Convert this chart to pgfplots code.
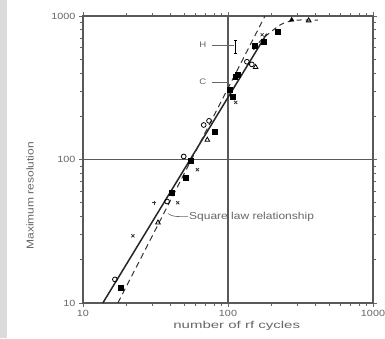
\documentclass[border=0pt]{standalone}
\usepackage{pgfplots}
\pgfplotsset{compat=1.18}
\usepackage{fontspec}
\setmainfont{Liberation Sans}
\newfontfamily\lab[FakeStretch=1.2]{Liberation Sans}
\newfontfamily\labw[FakeStretch=1.5]{Liberation Sans}
\begin{document}
\begin{tikzpicture}
\useasboundingbox (-83pt,-35pt) rectangle (302pt,303pt);
\fill[black!14] (-83pt,-35pt) rectangle (-76pt,303pt);
\begin{axis}[
  scale only axis, width=290pt, height=287pt,
  xmode=log, ymode=log,
  xmin=10, xmax=1000, ymin=10, ymax=1000,
  xtick={10,100,1000}, xticklabels={10,100,1000},
  ytick={10,100,1000}, yticklabels={10,100,1000},
  minor xtick={}, minor ytick={},
  tick align=outside, major tick length=4pt,
  tick style={black!60, line width=0.9pt},
  grid=major, grid style={black!65, line width=1.3pt},
  axis line style={black!65, line width=1.6pt},
  ticklabel style={font=\lab\fontsize{9}{10}\selectfont, text=black!60},
  /pgf/number format/assume math mode=true,
  xlabel={number of rf cycles}, ylabel={Maximum resolution},
  every axis x label/.style={at={(axis description cs:0.53,-0.08)}, anchor=center, font=\labw\fontsize{10}{11}\selectfont, text=black!60},
  every axis y label/.style={at={(axis description cs:-0.183,0.373)}, rotate=90, anchor=center, font=\lab\fontsize{10}{11}\selectfont, text=black!60},
  clip=false,
]
% solid fit line
\addplot[black!85, line width=1.5pt] coordinates {(13.7,10) (185,752)};
% square law dashed line
\addplot[black!80, line width=1.0pt, dash pattern=on 6pt off 4pt] coordinates {(17.4,10) (180,1000)};
% saturation dashed curve
\addplot[black!80, line width=1.0pt, dash pattern=on 5pt off 4pt, smooth] coordinates {(150,580) (171,686) (229,866) (275,925) (316,938) (417,935)};
% filled markers
\addplot[only marks, mark=square*, mark size=2.4pt, black] coordinates {
 (18.3,12.8) (41,59) (51,75) (55.6,98) (81,156) (108,275) (103,307)
 (112,376) (117,390) (152,623) (177,664) (221,780)};
\addplot[only marks, mark=triangle*, mark size=2.6pt, black] coordinates {(275,940)};
% open circles
\addplot[only marks, mark=o, mark size=2.4pt, black, line width=0.8pt] coordinates {
 (16.6,14.6) (38,51) (49.5,105) (68,174) (74,186) (146,460) (135,480)};
% open triangles
\addplot[only marks, mark=triangle, mark size=2.7pt, black, line width=0.8pt] coordinates {
 (32.9,36.3) (72,137) (155,440) (360,930)};
% crosses
\addplot[only marks, mark=x, mark size=2.2pt, black!80, line width=0.8pt] coordinates {
 (22.1,29.4) (45,50) (61.5,85) (113,250) (172,740)};
\addplot[only marks, mark=+, mark size=2.2pt, black!80, line width=0.8pt] coordinates {(31,50)};
% error bar
\addplot[black, line width=1.0pt] coordinates {(113,550) (113,680)};
\addplot[black, line width=1.0pt] coordinates {(110,680) (116,680)};
\addplot[black, line width=1.0pt] coordinates {(110,550) (116,550)};
% H and C labels
\addplot[black!60, line width=0.7pt] coordinates {(77,627) (110,627)};
\addplot[black!60, line width=0.7pt] coordinates {(77,347) (100,347)};
\node[font=\lab\fontsize{8}{9}\selectfont, text=black!60, anchor=east] at (axis cs:75,627) {H};
\node[font=\lab\fontsize{8}{9}\selectfont, text=black!60, anchor=east] at (axis cs:75,347) {C};
% square law annotation
\draw[black!60, line width=0.6pt] (axis cs:38.5,42) .. controls (axis cs:42,40) .. (axis cs:53,40);
\node[font=\lab\fontsize{10}{11}\selectfont, text=black!60, anchor=west, inner sep=1pt] at (axis cs:53,40) {Square law relationship};
\end{axis}
\end{tikzpicture}
\end{document}
